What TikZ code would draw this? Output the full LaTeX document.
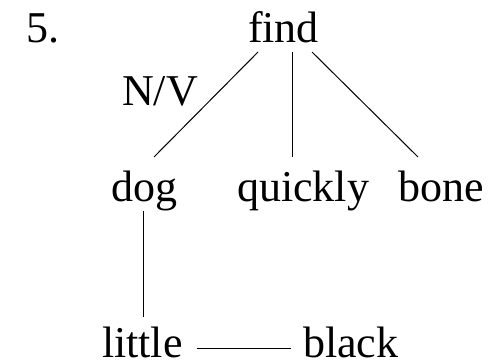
\documentclass[tikz,border=0pt]{standalone}
\usepackage{fontspec}
\setmainfont{Liberation Serif}
\usetikzlibrary{calc}
\begin{document}
\begin{tikzpicture}[x=1pt,y=-1pt,
  word/.style={anchor=base west,inner sep=0pt,outer sep=0pt,font=\fontsize{44}{50}\selectfont},
  link/.style={line width=1pt,black}]
\useasboundingbox (0,0) rectangle (492,363);
\node[word] (n5) at (26,43) {5.};
\node[word] (find) at (248,43) {find};
\node[word] (nv) at (122,106) {N/V};
\node[word] (dog) at (111,202) {dog};
\node[word] (quickly) at (237,202) {quickly};
\node[word] (bone) at (398,202) {bone};
\node[word] (little) at (102,357) {little};
\node[word] (black) at (303,357) {black};
\draw[link] ($(find.base west)+(10,9)$) -- ($(dog.base west)+(43,-45)$);
\draw[link] ($(find.base west)+(44,9)$) -- ($(quickly.base west)+(55,-45)$);
\draw[link] ($(find.base west)+(64,9)$) -- ($(bone.base west)+(20,-45)$);
\draw[link] ($(dog.base west)+(32,9)$) -- ($(little.base west)+(41,-40)$);
\draw[link] ($(little.base east)+(14,-9)$) -- ($(black.base west)+(-12,-9)$);
\end{tikzpicture}
\end{document}
